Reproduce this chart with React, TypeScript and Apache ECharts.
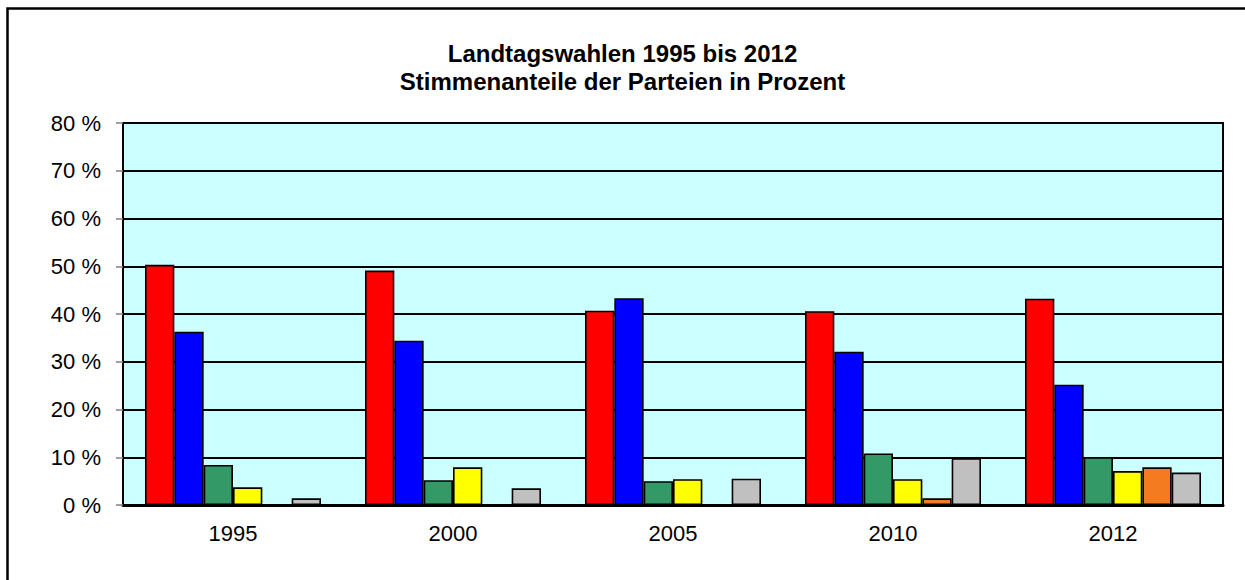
import React, { useEffect, useRef } from "react";
import * as echarts from "echarts";

const years = ["1995", "2000", "2005", "2010", "2012"];
const seriesNames = ["SPD", "CDU", "GRÜNE", "FDP", "PIRATEN", "Sonstige"];
const spd = [50.3, 49.1, 40.7, 40.6, 43.2];
const cdu = [36.3, 34.4, 43.3, 32.1, 25.2];
const gruene = [8.4, 5.2, 5.0, 10.8, 10.0];
const fdp = [3.7, 7.9, 5.4, 5.4, 7.1];
const piraten = [null, null, null, 1.4, 7.9];
const sonstige = [1.4, 3.5, 5.5, 9.8, 6.8];
const colors = ["#FF0000", "#0000FF", "#339966", "#FFFF00", "#F47B20", "#C0C0C0"];
const yTicks = [0, 10, 20, 30, 40, 50, 60, 70, 80];

const FONT = "'Liberation Sans', Arial, sans-serif";

export default function App() {
  const ref = useRef<HTMLDivElement>(null);
  useEffect(() => {
    if (!ref.current) return;
    const chart = echarts.init(ref.current, null, { renderer: "svg" });
    const data = [spd, cdu, gruene, fdp, piraten, sonstige];
    chart.setOption({
      animation: false,
      backgroundColor: "#FFFFFF",
      title: {
        text: "Landtagswahlen 1995 bis 2012\nStimmenanteile der Parteien in Prozent",
        left: "center",
        top: 34,
        textStyle: {
          fontFamily: FONT,
          fontSize: 24,
          fontWeight: "bold",
          color: "#000",
          lineHeight: 28,
        },
      },
      graphic: [
        {
          type: "rect",
          shape: { x: 7.5, y: 8.5, width: 1400, height: 1000 },
          style: { fill: "none", stroke: "#000", lineWidth: 2.5 },
          silent: true,
        },
      ],
      grid: {
        left: 123,
        right: 22,
        top: 123,
        bottom: 75,
        show: true,
        backgroundColor: "#CCFFFF",
        borderColor: "#000",
        borderWidth: 2,
      },
      xAxis: {
        type: "category",
        data: years,
        axisLine: { show: true, lineStyle: { color: "#000", width: 3 } },
        axisTick: { show: false },
        axisLabel: { fontFamily: FONT, fontSize: 22, color: "#000", margin: 17 },
      },
      yAxis: {
        type: "value",
        min: yTicks[0],
        max: yTicks[yTicks.length - 1],
        interval: 10,
        axisLine: { show: true, lineStyle: { color: "#000", width: 2 } },
        axisTick: { show: true, length: 7, lineStyle: { color: "#808080", width: 1.5 } },
        axisLabel: {
          fontFamily: FONT,
          fontSize: 22,
          color: "#000",
          margin: 22,
          formatter: "{value} %",
        },
        splitLine: { show: true, lineStyle: { color: "#000", width: 2 } },
      },
      series: seriesNames.map((name, i) => ({
        name,
        type: "bar",
        data: data[i],
        barGap: "0%",
        barCategoryGap: "20%",
        itemStyle: { color: colors[i], borderColor: "#000", borderWidth: 1.6 },
      })),
    });
    return () => chart.dispose();
  }, []);
  return (
    <div
      ref={ref}
      style={{ position: "fixed", left: 0, top: 0, width: 1245, height: 580 }}
    />
  );
}
